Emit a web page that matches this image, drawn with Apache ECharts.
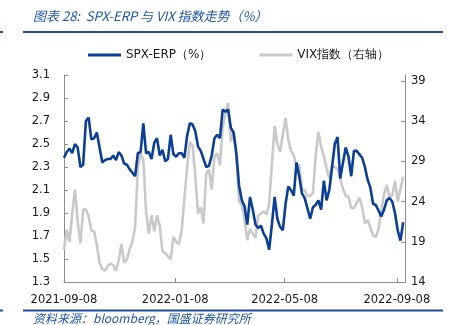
<!DOCTYPE html>
<html>
<head>
<meta charset="utf-8">
<script src="https://cdn.jsdelivr.net/npm/echarts@6/dist/echarts.min.js"></script>
<style>
  html, body { margin: 0; padding: 0; background: #fff; }
  #chart { width: 453px; height: 325px; }
</style>
</head>
<body>
<div id="chart"></div>
<script>
// SPX equity risk premium (%) and VIX, sampled every 3 days from 2021-09-08
const START_DATE = [2021, 8, 8];
const STEP_DAYS = 3;

const erpValues = [
  2.38, 2.43, 2.46, 2.42, 2.50, 2.47, 2.30, 2.32, 2.70, 2.73,
  2.54, 2.55, 2.60, 2.47, 2.34, 2.36, 2.37, 2.37, 2.40, 2.36,
  2.43, 2.40, 2.33, 2.32, 2.28, 2.25, 2.22, 2.42, 2.43, 2.68,
  2.42, 2.43, 2.37, 2.51, 2.55, 2.40, 2.45, 2.35, 2.37, 2.58,
  2.41, 2.39, 2.42, 2.42, 2.38, 2.57, 2.68, 2.67, 2.61, 2.48,
  2.44, 2.37, 2.30, 2.31, 2.40, 2.55, 2.58, 2.55, 2.80, 2.78,
  2.80, 2.64, 2.60, 2.42, 2.14, 2.01, 1.96, 1.80, 2.04, 1.93,
  1.80, 1.77, 1.79, 1.72, 1.68, 1.58, 1.80, 2.04, 1.85, 1.78,
  1.75, 1.98, 2.13, 2.10, 2.05, 2.34, 2.22, 2.07, 2.03, 1.94,
  1.85, 1.95, 1.97, 2.01, 1.93, 2.18, 2.01, 2.10, 2.30, 2.50,
  2.56, 2.20, 2.34, 2.47, 2.39, 2.22, 2.44, 2.44, 2.41, 2.38,
  2.30, 2.19, 2.12, 1.98, 1.97, 1.92, 1.87, 1.93, 2.01, 2.03,
  2.00, 1.90, 1.75, 1.66, 1.82
];

const vixValues = [
  18.0, 20.5, 19.0, 22.5, 25.5, 21.5, 18.8, 23.0, 23.0, 22.2,
  20.4, 20.3, 18.6, 16.4, 15.6, 15.4, 16.0, 16.3, 16.1, 15.4,
  16.7, 18.7, 16.4, 16.8, 18.1, 19.0, 20.8, 28.2, 30.0, 29.2,
  22.8, 20.0, 22.3, 20.3, 22.3, 21.0, 17.8, 17.6, 17.2, 16.8,
  19.6, 19.0, 18.7, 20.4, 24.3, 28.2, 31.4, 31.0, 27.2, 22.5,
  23.3, 21.3, 27.5, 28.0, 25.5, 29.6, 30.0, 28.5, 33.2, 35.0,
  36.3, 31.5, 32.8, 29.5, 24.0, 23.6, 21.8, 19.2, 20.6, 20.0,
  19.5, 22.3, 22.5, 22.8, 22.4, 23.7, 28.6, 33.4, 31.2, 30.2,
  32.3, 34.4, 31.7, 30.3, 29.8, 28.2, 28.6, 25.6, 25.4, 24.7,
  24.7, 25.1, 29.6, 32.7, 30.8, 29.7, 28.2, 26.9, 28.4, 28.3,
  28.1, 26.8, 25.6, 24.7, 24.6, 23.2, 23.2, 23.8, 24.5, 23.3,
  21.3, 21.7, 20.8, 19.8, 19.6, 20.6, 23.0, 24.9, 26.1, 24.5,
  24.8, 26.6, 24.0, 25.6, 27.1
];

const leftTicks = [1.3, 1.5, 1.7, 1.9, 2.1, 2.3, 2.5, 2.7, 2.9, 3.1];
const rightTicks = [14, 19, 24, 29, 34, 39];
const dateTicks = ['2021-09-08', '2022-01-08', '2022-05-08', '2022-09-08'];

// x positions are day offsets from the first date
const DAY = 86400000;
const t0 = Date.UTC(START_DATE[0], START_DATE[1], START_DATE[2]);
const dayOffsets = erpValues.map((_, i) => i * STEP_DAYS);
const toOffset = s => { const p = s.split('-').map(Number); return Math.round((Date.UTC(p[0], p[1] - 1, p[2]) - t0) / DAY); };
const tickOffsets = dateTicks.map(toOffset);
const labelFor = v => { const k = tickOffsets.indexOf(Math.round(v)); return k >= 0 ? dateTicks[k] : ''; };

const BLUE = '#0b3f96';
const GREY = '#c9c9c9';
const AXIS = '#8c8c8c';
const TEXT_BLUE = '#1f56a8';
const FONT = 'DejaVu Sans';

const chart = echarts.init(document.getElementById('chart'), null, { renderer: 'canvas' });

chart.setOption({
  animation: false,
  backgroundColor: '#ffffff',
  textStyle: { fontFamily: FONT },
  grid: { left: 64, right: 48, top: 75, bottom: 43, containLabel: false },
  legend: {
    top: 44,
    left: 83,
    itemGap: 48,
    itemWidth: 33,
    itemHeight: 3,
    icon: 'rect',
    data: ['SPX-ERP（%）', 'VIX指数（右轴）'],
    textStyle: { fontFamily: FONT, fontSize: 12, color: '#1a1a1a' }
  },
  xAxis: {
    type: 'value',
    min: 0,
    max: 374,
    axisLine: { lineStyle: { color: AXIS, width: 1 } },
    axisTick: { show: true, inside: true, length: 4, lineStyle: { color: AXIS }, customValues: tickOffsets },
    axisLabel: {
      customValues: tickOffsets,
      formatter: v => labelFor(v),
      color: '#1a1a1a', fontSize: 11.5, fontFamily: FONT, margin: 12
    },
    splitLine: { show: false }
  },
  yAxis: [
    {
      type: 'value',
      position: 'left',
      min: 1.3,
      max: 3.1,
      axisLine: { show: true, lineStyle: { color: AXIS, width: 1 } },
      axisTick: { show: true, inside: true, length: 4, lineStyle: { color: AXIS }, customValues: leftTicks },
      axisLabel: {
        customValues: leftTicks,
        formatter: v => v.toFixed(1),
        color: '#1a1a1a', fontSize: 11.5, fontFamily: FONT, margin: 14
      },
      splitLine: { show: false }
    },
    {
      type: 'value',
      position: 'right',
      min: 14,
      max: 39.75,
      axisLine: { show: true, lineStyle: { color: AXIS, width: 1 } },
      axisTick: { show: true, inside: true, length: 4, lineStyle: { color: AXIS }, customValues: rightTicks },
      axisLabel: {
        customValues: rightTicks,
        color: '#1a1a1a', fontSize: 11.5, fontFamily: FONT, margin: 6
      },
      splitLine: { show: false }
    }
  ],
  series: [
    {
      name: 'VIX指数（右轴）',
      type: 'line',
      yAxisIndex: 1,
      data: dayOffsets.map((d, i) => [d, vixValues[i]]),
      showSymbol: false,
      symbol: 'none',
      lineStyle: { color: GREY, width: 2.6 },
      itemStyle: { color: GREY },
      z: 2
    },
    {
      name: 'SPX-ERP（%）',
      type: 'line',
      yAxisIndex: 0,
      data: dayOffsets.map((d, i) => [d, erpValues[i]]),
      showSymbol: false,
      symbol: 'none',
      lineStyle: { color: BLUE, width: 2.6 },
      itemStyle: { color: BLUE },
      z: 3
    }
  ],
  graphic: [
    {
      type: 'text', left: 33, top: 10,
      style: { text: '图表 28:  SPX-ERP 与 VIX 指数走势（%）', fill: TEXT_BLUE, font: 'italic 13px "Noto Sans CJK SC", "DejaVu Sans"' }
    },
    { type: 'rect', shape: { x: 23, y: 31, width: 420, height: 2 }, style: { fill: '#1f4e9f' } },
    { type: 'rect', shape: { x: 0, y: 31, width: 3, height: 2 }, style: { fill: '#1f4e9f' } },
    { type: 'rect', shape: { x: 23, y: 309.5, width: 420, height: 2 }, style: { fill: '#1f4e9f' } },
    { type: 'rect', shape: { x: 0, y: 309.5, width: 3, height: 2 }, style: { fill: '#1f4e9f' } },
    {
      type: 'text', left: 33, top: 312,
      style: { text: '资料来源：bloomberg，国盛证券研究所', fill: TEXT_BLUE, font: 'italic 12px "Noto Sans CJK SC", "DejaVu Sans"' }
    }
  ]
});
</script>
</body>
</html>
